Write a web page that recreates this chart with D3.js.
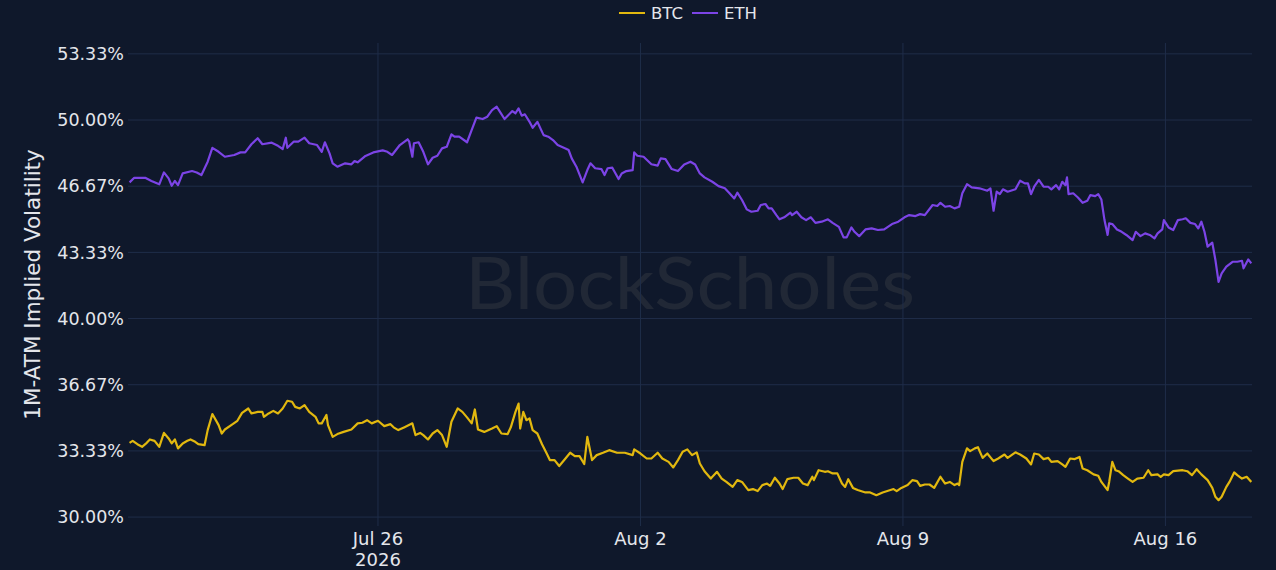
<!DOCTYPE html>
<html><head><meta charset="utf-8">
<script src="https://cdn.jsdelivr.net/npm/d3@7"></script>
<style>html,body{margin:0;padding:0;background:#0f182b;}svg{display:block}</style>
</head><body>
<svg id="chart" width="1276" height="570"></svg>
<script>
// Data: [hours since 2026-07-19 00:00 UTC, 1M ATM implied vol in %]
const baseDateUTC = "2026-07-19T00:00:00Z";
const seriesNames = ["BTC", "ETH"];
const btcData = [[9,33.74],[11,33.84],[14,33.67],[17,33.54],[20,33.74],[22,33.91],[25,33.84],[28,33.54],[31,34.24],[34,33.96],[36,33.71],[38,33.91],[40,33.46],[43,33.71],[46,33.84],[48,33.91],[51,33.79],[53,33.67],[57,33.62],[59,34.38],[62,35.19],[66,34.63],[68,34.21],[70,34.41],[75,34.68],[78,34.85],[81,35.25],[85,35.47],[87,35.22],[91,35.30],[94,35.30],[95,35.05],[98,35.22],[101,35.35],[104,35.22],[107,35.47],[110,35.86],[113,35.81],[115,35.55],[118,35.47],[121,35.64],[124,35.30],[128,35.05],[130,34.72],[132,34.72],[135,35.14],[136,34.63],[139,34.04],[142,34.18],[146,34.29],[151,34.41],[155,34.72],[158,34.75],[161,34.88],[164,34.72],[168,34.85],[172,34.58],[176,34.68],[178,34.52],[181,34.38],[185,34.53],[190,34.72],[192,34.13],[195,34.24],[197,34.13],[200,33.91],[203,34.21],[206,34.38],[209,34.13],[212,33.54],[215,34.80],[219,35.47],[222,35.30],[225,35.02],[228,34.72],[230,35.42],[232,34.41],[236,34.29],[241,34.46],[244,34.58],[247,34.21],[251,34.18],[253,34.52],[256,35.30],[258,35.72],[259,34.46],[261,35.30],[263,34.88],[265,34.97],[267,34.38],[270,34.21],[273,33.67],[276,33.20],[278,32.87],[281,32.87],[284,32.57],[288,32.95],[291,33.24],[294,33.07],[297,33.07],[300,32.67],[302,34.04],[305,32.87],[308,33.12],[312,33.24],[316,33.37],[321,33.24],[326,33.24],[331,33.12],[332,33.41],[336,33.20],[340,32.95],[343,32.95],[347,33.24],[350,32.95],[354,32.78],[357,32.50],[360,32.87],[363,33.29],[366,33.41],[369,33.12],[372,33.26],[374,32.70],[377,32.31],[381,31.94],[385,32.28],[388,31.94],[391,31.77],[395,31.52],[398,31.86],[401,31.77],[405,31.36],[408,31.41],[411,31.31],[414,31.61],[417,31.69],[419,31.57],[422,31.98],[425,31.69],[427,31.41],[430,31.91],[434,31.98],[437,31.98],[440,31.69],[443,31.61],[446,32.03],[447,31.86],[450,32.36],[454,32.28],[456,32.31],[459,32.20],[462,32.20],[465,31.69],[467,31.52],[469,31.91],[472,31.47],[475,31.36],[480,31.24],[483,31.24],[487,31.10],[491,31.24],[494,31.31],[498,31.41],[500,31.31],[503,31.47],[507,31.61],[510,31.86],[513,31.81],[515,31.57],[518,31.64],[521,31.64],[524,31.47],[528,32.03],[531,31.69],[534,31.77],[537,31.61],[539,31.69],[540,31.61],[542,32.78],[545,33.46],[547,33.32],[550,33.46],[552,33.52],[555,32.98],[558,33.20],[562,32.82],[565,32.95],[569,33.15],[571,32.98],[576,33.26],[579,33.15],[583,32.95],[586,32.65],[588,33.20],[591,33.15],[594,32.92],[597,32.98],[599,32.78],[603,32.82],[606,32.65],[608,32.53],[611,32.95],[614,32.92],[617,33.03],[619,32.45],[622,32.36],[626,32.15],[629,32.08],[631,31.77],[635,31.36],[636,31.77],[638,32.78],[640,32.36],[642,32.31],[645,32.11],[648,31.94],[651,31.77],[654,31.94],[658,31.98],[661,32.36],[663,32.11],[667,32.15],[669,32.03],[671,32.15],[674,32.11],[677,32.31],[683,32.36],[686,32.31],[689,32.11],[692,32.41],[695,32.15],[699,31.86],[702,31.47],[704,31.02],[706,30.85],[708,31.02],[711,31.52],[713,31.77],[716,32.25],[718,32.11],[721,31.94],[724,32.03],[727,31.77]];
const ethData = [[9,46.86],[12,47.09],[19,47.09],[23,46.93],[28,46.76],[31,47.36],[34,47.06],[36,46.69],[38,46.93],[40,46.72],[43,47.31],[49,47.43],[52,47.36],[55,47.23],[59,47.90],[62,48.60],[66,48.40],[70,48.15],[76,48.24],[80,48.37],[83,48.37],[87,48.78],[91,49.08],[94,48.78],[100,48.86],[104,48.70],[107,48.54],[109,49.11],[110,48.60],[114,48.91],[117,48.91],[121,49.11],[124,48.83],[129,48.74],[132,48.40],[134,48.88],[137,48.32],[139,47.82],[142,47.65],[147,47.82],[151,47.77],[153,47.93],[155,47.87],[160,48.19],[165,48.37],[171,48.47],[174,48.40],[177,48.24],[179,48.44],[182,48.74],[187,49.03],[188,48.91],[190,48.15],[191,48.83],[194,48.88],[197,48.40],[200,47.77],[203,48.10],[206,48.20],[209,48.57],[212,48.65],[215,49.28],[217,49.16],[220,49.16],[225,48.88],[228,49.50],[231,50.12],[235,50.05],[238,50.17],[241,50.50],[244,50.67],[246,50.42],[249,50.05],[254,50.45],[256,50.34],[258,50.59],[260,50.22],[262,50.29],[265,49.91],[267,49.61],[270,49.91],[274,49.24],[277,49.16],[280,48.99],[283,48.74],[288,48.57],[290,48.49],[292,48.07],[295,47.65],[299,46.86],[302,47.48],[304,47.82],[307,47.57],[311,47.53],[313,47.23],[315,47.57],[318,47.60],[322,47.03],[324,47.31],[327,47.43],[331,47.48],[332,48.37],[334,48.20],[338,48.15],[343,47.77],[347,47.70],[349,48.07],[352,48.03],[356,47.53],[360,47.43],[364,47.76],[368,47.90],[371,47.76],[374,47.31],[377,47.11],[382,46.89],[386,46.67],[390,46.56],[393,46.31],[396,46.05],[398,46.34],[401,45.97],[404,45.50],[407,45.38],[411,45.43],[413,45.72],[416,45.77],[418,45.55],[420,45.55],[423,45.21],[425,45.00],[428,45.10],[432,45.33],[433,45.21],[436,45.38],[439,45.10],[442,44.96],[445,45.10],[448,44.82],[452,44.88],[456,45.00],[459,44.82],[463,44.62],[466,44.09],[468,44.09],[471,44.59],[473,44.37],[476,44.15],[480,44.49],[484,44.54],[488,44.46],[492,44.49],[497,44.76],[501,44.88],[505,45.10],[508,45.21],[512,45.16],[515,45.26],[518,45.21],[523,45.72],[526,45.67],[528,45.83],[531,45.63],[534,45.67],[537,45.55],[540,45.63],[542,46.31],[545,46.77],[548,46.61],[553,46.56],[558,46.44],[560,46.56],[562,45.43],[564,46.39],[566,46.27],[568,46.51],[571,46.39],[576,46.51],[579,46.94],[582,46.81],[584,46.81],[586,46.27],[588,46.64],[591,46.98],[594,46.64],[597,46.64],[599,46.51],[602,46.72],[604,46.51],[606,46.89],[608,46.72],[609,47.11],[610,46.27],[613,46.31],[616,46.10],[619,45.83],[622,45.93],[624,46.22],[627,46.17],[629,46.27],[631,46.00],[633,44.96],[635,44.21],[636,44.79],[638,44.76],[641,44.49],[644,44.37],[647,44.21],[651,43.95],[653,44.37],[656,44.15],[659,44.29],[662,44.21],[665,44.04],[667,44.29],[670,44.49],[671,44.96],[674,44.59],[677,44.46],[680,44.96],[683,45.00],[685,45.05],[688,44.82],[691,44.76],[693,44.54],[695,44.88],[697,44.37],[699,43.62],[702,43.82],[704,42.95],[706,41.85],[708,42.28],[711,42.61],[715,42.86],[718,42.86],[721,42.91],[722,42.53],[725,42.98],[727,42.78]];
const yTicks = [30, 33.333, 36.667, 40, 43.333, 46.667, 50, 53.333];
const xTickDates = ["2026-07-26", "2026-08-02", "2026-08-09", "2026-08-16"];
const xDomain = ["2026-07-19T08:00:00Z", "2026-08-18T07:25:00Z"];
const yDomain = [29.55, 53.88];
const yTitle = "1M-ATM Implied Volatility";
const watermark = "BlockScholes";

// Styles
const colors = {BTC: "#e2b80f", ETH: "#7c44e6"};
const bg = "#0f182b", grid = "#1f2d49", textCol = "#e4e6eb";
const font = "'DejaVu Sans', Verdana, sans-serif";
const m = {left: 128, right: 1252, top: 43, bottom: 526};

const base = new Date(baseDateUTC).getTime();
const toDate = h => new Date(base + h * 3600e3);

const svg = d3.select("#chart");
svg.append("rect").attr("width", 1276).attr("height", 570).attr("fill", bg);

const x = d3.scaleUtc().domain(xDomain.map(d => new Date(d))).range([m.left, m.right]);
const y = d3.scaleLinear().domain(yDomain).range([m.bottom, m.top]);

// watermark
svg.append("text").attr("x", 465).attr("y", 309)
  .attr("font-family", "Lato, 'Open Sans', sans-serif").attr("font-size", 72)
  .attr("textLength", 450).attr("lengthAdjust", "spacingAndGlyphs")
  .attr("fill", "#212836").text(watermark);

// gridlines
const gx = svg.append("g");
gx.selectAll("line.h").data(yTicks).join("line")
  .attr("x1", m.left).attr("x2", m.right)
  .attr("y1", d => y(d)).attr("y2", d => y(d))
  .attr("stroke", grid).attr("stroke-width", 1);
gx.selectAll("line.v").data(xTickDates).join("line")
  .attr("x1", d => x(new Date(d + "T00:00:00Z"))).attr("x2", d => x(new Date(d + "T00:00:00Z")))
  .attr("y1", m.top).attr("y2", m.bottom)
  .attr("stroke", grid).attr("stroke-width", 1);

// y axis labels
const fmt = d3.format(".2f");
svg.append("g").selectAll("text").data(yTicks).join("text")
  .attr("x", m.left - 4).attr("y", d => y(d)).attr("dy", "0.36em")
  .attr("text-anchor", "end").attr("font-family", font).attr("font-size", 17.5)
  .attr("fill", textCol).text(d => fmt(d) + "%");

// x axis labels
const xFmt = d3.utcFormat("%b %-d");
const xl = svg.append("g").selectAll("text").data(xTickDates).join("text")
  .attr("x", d => x(new Date(d + "T00:00:00Z"))).attr("y", 545)
  .attr("text-anchor", "middle").attr("font-family", font).attr("font-size", 18)
  .attr("fill", textCol);
xl.append("tspan").text(d => xFmt(new Date(d + "T00:00:00Z")));
xl.filter((d, i) => i === 0).append("tspan")
  .attr("x", d => x(new Date(d + "T00:00:00Z"))).attr("dy", 21).text(d => d.slice(0, 4));

// y title
svg.append("text").attr("transform", `translate(32,${(m.top + m.bottom) / 2}) rotate(-90)`)
  .attr("text-anchor", "middle").attr("dy", "0.36em")
  .attr("font-family", font).attr("font-size", 21.5).attr("fill", textCol).text(yTitle);

// lines
const line = d3.line().x(d => x(toDate(d[0]))).y(d => y(d[1]));
svg.append("clipPath").attr("id", "clip").append("rect")
  .attr("x", m.left).attr("y", m.top).attr("width", m.right - m.left).attr("height", m.bottom - m.top);
[["BTC", btcData], ["ETH", ethData]].forEach(([name, data]) => {
  svg.append("path").datum(data).attr("d", line)
    .attr("fill", "none").attr("stroke", colors[name]).attr("stroke-width", 2.2)
    .attr("stroke-linejoin", "round").attr("clip-path", "url(#clip)");
});

// legend
const leg = svg.append("g").attr("font-family", font).attr("font-size", 16.5).attr("fill", textCol);
const legX = {BTC: 619, ETH: 692};
seriesNames.forEach(n => {
  leg.append("line").attr("x1", legX[n]).attr("x2", legX[n] + 26).attr("y1", 13).attr("y2", 13)
    .attr("stroke", colors[n]).attr("stroke-width", 2);
  leg.append("text").attr("x", legX[n] + 32).attr("y", 13).attr("dy", "0.36em").text(n);
});
</script>
</body></html>
